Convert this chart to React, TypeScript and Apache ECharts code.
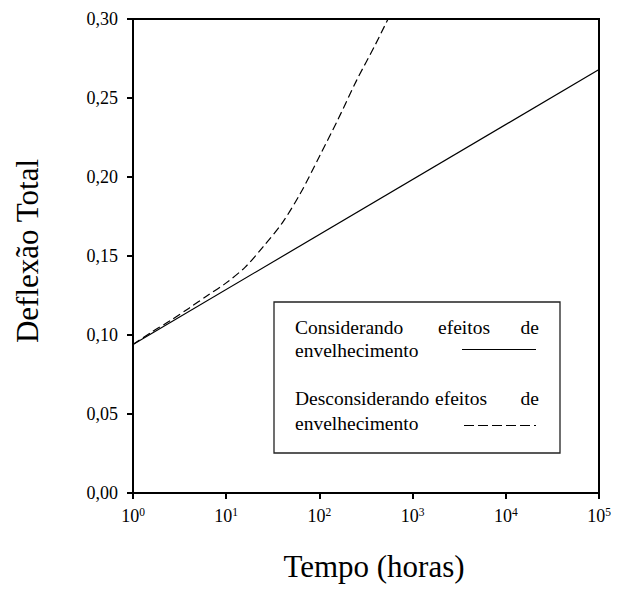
import React, { useEffect, useRef } from "react";
import * as echarts from "echarts";

// Tempo (horas) e deflexão total para as duas hipóteses de cálculo
const tempoComEnvelhecimento = [1, 100000];
const deflexaoComEnvelhecimento = [0.094, 0.268];

const tempoSemEnvelhecimento = [1, 1.6, 2.5, 4, 6.3, 10, 16, 25, 40, 63, 100, 160, 250, 400, 545];
const deflexaoSemEnvelhecimento = [
  0.094, 0.102, 0.109, 0.117, 0.125, 0.133, 0.143, 0.156, 0.171, 0.19, 0.213, 0.237, 0.261, 0.284,
  0.3,
];

const serieCom = "Considerando efeitos de envelhecimento";
const serieSem = "Desconsiderando efeitos de envelhecimento";

const FONT = "Liberation Serif";

function pares(xs: number[], ys: number[]) {
  return xs.map((x, i) => [x, ys[i]]);
}

export default function App() {
  const ref = useRef<HTMLDivElement>(null);

  useEffect(() => {
    if (!ref.current) return;
    const chart = echarts.init(ref.current, null, { renderer: "svg" });

    const legendText = (text: string, x: number, y: number, align: string = "left") => ({
      type: "text",
      x,
      y,
      z: 20,
      style: {
        text,
        fill: "#000",
        font: `19.5px '${FONT}'`,
        align,
        verticalAlign: "middle",
      },
    });

    chart.setOption({
      animation: false,
      backgroundColor: "#fff",
      grid: {
        left: 133,
        right: 20,
        top: 19,
        bottom: 96,
        show: true,
        borderColor: "#000",
        borderWidth: 2,
        backgroundColor: "transparent",
      },
      xAxis: {
        type: "log",
        logBase: 10,
        min: 1,
        max: 100000,
        interval: 1,
        name: "Tempo (horas)",
        nameLocation: "middle",
        nameGap: 58,
        nameTextStyle: { fontSize: 31, color: "#000", fontFamily: FONT, padding: [0, 0, 0, 16] },
        axisLine: { show: true, lineStyle: { color: "#000", width: 2 } },
        axisTick: { show: true, inside: false, length: 6, lineStyle: { color: "#000", width: 2 } },
        minorTick: { show: false },
        splitLine: { show: false },
        axisLabel: {
          margin: 13,
          color: "#000",
          fontFamily: FONT,
          formatter: (v: number) => `{b|10}{s|${Math.round(Math.log10(v))}}`,
          rich: {
            b: { fontSize: 18, fontFamily: FONT, color: "#000" },
            s: { fontSize: 11.5, fontFamily: FONT, color: "#000", padding: [0, 0, 7, 0] },
          },
        },
      },
      yAxis: {
        type: "value",
        min: 0,
        max: 0.3,
        interval: 0.05,
        name: "Deflexão Total",
        nameLocation: "middle",
        nameRotate: 90,
        nameGap: 90,
        nameTextStyle: { fontSize: 31, color: "#000", fontFamily: FONT, padding: [0, 0, 0, 10] },
        axisLine: { show: true, lineStyle: { color: "#000", width: 2 } },
        axisTick: { show: true, inside: false, length: 6, lineStyle: { color: "#000", width: 2 } },
        splitLine: { show: false },
        axisLabel: {
          margin: 15,
          color: "#000",
          fontSize: 18,
          fontFamily: FONT,
          formatter: (v: number) => v.toFixed(2).replace(".", ","),
        },
      },
      series: [
        {
          name: serieCom,
          type: "line",
          data: pares(tempoComEnvelhecimento, deflexaoComEnvelhecimento),
          showSymbol: false,
          lineStyle: { color: "#000", width: 1.2, type: "solid" },
          clip: true,
        },
        {
          name: serieSem,
          type: "line",
          data: pares(tempoSemEnvelhecimento, deflexaoSemEnvelhecimento),
          showSymbol: false,
          smooth: 0.3,
          lineStyle: { color: "#000", width: 1.2, type: [8, 4] },
          clip: true,
        },
      ],
      graphic: [
        {
          type: "rect",
          z: 10,
          shape: { x: 274, y: 302, width: 286, height: 151 },
          style: { fill: "#fff", stroke: "#222", lineWidth: 1.3 },
        },
        legendText("Considerando", 295, 327),
        legendText("efeitos", 438, 327),
        legendText("de", 539, 327, "right"),
        legendText("envelhecimento", 295, 350),
        {
          type: "line",
          z: 20,
          shape: { x1: 462, y1: 349.5, x2: 536, y2: 349.5 },
          style: { stroke: "#000", lineWidth: 1.2 },
        },
        legendText("Desconsiderando", 295, 398),
        legendText("efeitos", 435, 398),
        legendText("de", 539, 398, "right"),
        legendText("envelhecimento", 295, 423),
        {
          type: "line",
          z: 20,
          shape: { x1: 464, y1: 425.5, x2: 536, y2: 425.5 },
          style: { stroke: "#000", lineWidth: 1.2, lineDash: [10, 4] },
        },
      ],
    });

    return () => chart.dispose();
  }, []);

  return (
    <div
      ref={ref}
      style={{ position: "fixed", left: 0, top: 0, width: 619, height: 589, background: "#fff" }}
    />
  );
}
